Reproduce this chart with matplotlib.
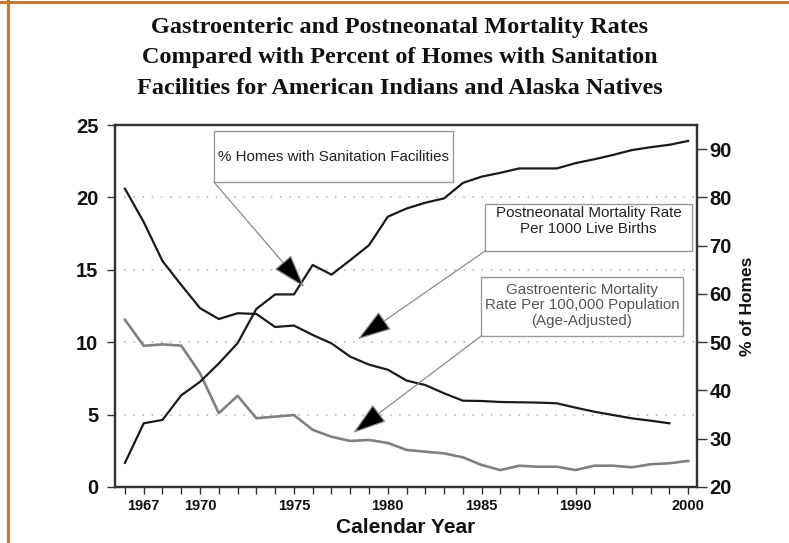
import matplotlib
matplotlib.use("Agg")
import matplotlib.pyplot as plt
from matplotlib.patches import Rectangle
from matplotlib.lines import Line2D

# ---- data ----
year_labels = ["1966", "1967", "1968", "1969", "1970", "1971", "1972", "1973", "1974", "1975",
               "1976", "1977", "1978", "1979", "1980", "1981", "1982", "1983", "1984", "1985",
               "1986", "1987", "1988", "1989", "1990", "1991", "1992", "1993", "1994", "1995",
               "2000"]
shown_ticks = ["1967", "1970", "1975", "1980", "1985", "1990", "2000"]

pct_homes_sanitation = [25.0, 33.2, 33.9, 39.0, 41.8, 45.6, 49.8, 56.9, 59.9, 59.9,
                        66.0, 64.0, 67.0, 70.1, 76.0, 77.7, 78.9, 79.8, 83.0, 84.3,
                        85.1, 86.0, 86.0, 86.0, 87.1, 87.9, 88.8, 89.8, 90.4, 90.9,
                        91.7]
postneonatal_rate = [20.6, 18.3, 15.6, 13.95, 12.35, 11.6, 12.0, 11.95, 11.05, 11.15,
                     10.5, 9.92, 9.0, 8.45, 8.1, 7.35, 7.04, 6.47, 5.96, 5.94,
                     5.87, 5.85, 5.83, 5.78, 5.48, 5.2, 4.97, 4.74, 4.58, 4.4]
gastro_rate = [11.55, 9.75, 9.85, 9.76, 7.85, 5.1, 6.3, 4.75, 4.86, 4.97,
               3.95, 3.47, 3.18, 3.25, 3.04, 2.56, 2.44, 2.32, 2.05, 1.52,
               1.17, 1.47, 1.4, 1.4, 1.17, 1.47, 1.47, 1.36, 1.57, 1.64,
               1.8]

title_lines = ["Gastroenteric and Postneonatal Mortality Rates",
               "Compared with Percent of Homes with Sanitation",
               "Facilities for American Indians and Alaska Natives"]

# ---- figure ----
fig = plt.figure(figsize=(7.89, 5.43), dpi=100)
fig.patch.set_facecolor("white")

# orange frame lines (left and top)
fig.add_artist(Line2D([8 / 789, 8 / 789], [0, 1], color="#C47A35", lw=2.2,
                      transform=fig.transFigure))
fig.add_artist(Line2D([0, 1], [1 - 2 / 543, 1 - 2 / 543], color="#C47A35", lw=2.2,
                      transform=fig.transFigure))

ax = fig.add_axes([115 / 789, 1 - 487 / 543, (697 - 115) / 789, (487 - 125) / 543])
ax2 = ax.twinx()

x_all = list(range(len(year_labels)))

for s in list(ax.spines.values()) + list(ax2.spines.values()):
    s.set_linewidth(1.6)
    s.set_color("#333333")

# grid
for g in [5, 10, 15, 20]:
    ax.axhline(g, color="#b0b0b0", lw=1.1, ls=(0, (1, 5)), zorder=0)

ax.plot(x_all[:len(gastro_rate)], gastro_rate, color="#808080", lw=1.9, zorder=3)
ax.plot(x_all[:len(postneonatal_rate)], postneonatal_rate, color="#1a1a1a", lw=1.6, zorder=3)
ax2.plot(x_all[:len(pct_homes_sanitation)], pct_homes_sanitation, color="#1a1a1a", lw=1.6, zorder=3)

ax.set_xlim(-0.53, 30.47)
ax.set_ylim(0, 25)
ax2.set_ylim(20, 95)
ax.set_yticks([0, 5, 10, 15, 20, 25])
ax2.set_yticks([20, 30, 40, 50, 60, 70, 80, 90])

ax.set_xticks(x_all)
ax.set_xticklabels([lbl if lbl in shown_ticks else "" for lbl in year_labels])

ax.tick_params(axis="x", direction="out", length=5, width=1, color="#333333", pad=4,
               labelsize=10.5)
ax.tick_params(axis="y", direction="out", length=6, width=1, color="#333333", pad=6,
               labelsize=14.5)
ax2.tick_params(axis="y", direction="out", length=7, width=1, color="#333333", pad=2,
                labelsize=14.5)
for lab in ax.get_xticklabels() + ax.get_yticklabels() + ax2.get_yticklabels():
    lab.set_fontweight("bold")
    lab.set_fontfamily("Liberation Sans")
    lab.set_color("#111111")

ax.set_xlabel("Calendar Year", fontsize=15, fontweight="bold", family="Liberation Sans",
              labelpad=3, color="#111111")
ax2.set_ylabel("% of Homes", fontsize=12.5, fontweight="bold", family="Liberation Sans",
               labelpad=6, color="#111111")

# title
for i, line in enumerate(title_lines):
    fig.text(400 / 789, 1 - (27 + 30.5 * i) / 543, line, ha="center", va="center",
             fontsize=17.5, fontweight="bold", family="Liberation Serif", color="#111111")

# annotation boxes
boxes = [
    dict(x0=0.170, x1=0.5815, y0=0.8425, y1=0.983, ty=0.912,
         text="% Homes with Sanitation Facilities", color="#222222",
         tip=(9.55, 13.8)),
    dict(x0=0.636, x1=0.991, y0=0.652, y1=0.782, ty=0.734,
         text="Postneonatal Mortality Rate\nPer 1000 Live Births", color="#222222",
         tip=(12.4, 10.2)),
    dict(x0=0.629, x1=0.976, y0=0.417, y1=0.580, ty=0.502,
         text="Gastroenteric Mortality\nRate Per 100,000 Population\n(Age-Adjusted)",
         color="#555555", tip=(12.15, 3.73)),
]
for b in boxes:
    ax2.add_patch(Rectangle((b["x0"], b["y0"]), b["x1"] - b["x0"], b["y1"] - b["y0"],
                            transform=ax2.transAxes, fill=True, facecolor="white",
                            edgecolor="#9a9a9a", lw=1.0, zorder=5))
    ax2.text((b["x0"] + b["x1"]) / 2, b["ty"], b["text"],
             transform=ax2.transAxes, ha="center", va="center", fontsize=10.9,
             family="Liberation Sans", color=b["color"], linespacing=1.15, zorder=6)
    ax2.annotate("", xy=b["tip"], xycoords=ax.transData,
                 xytext=(b["x0"], b["y0"]), textcoords=ax2.transAxes,
                 arrowprops=dict(arrowstyle="-|>,head_length=1.8,head_width=0.58",
                                 ec="#8a8a8a", fc="black", lw=0.9,
                                 shrinkA=0, shrinkB=0, mutation_scale=12),
                 zorder=6)

fig.savefig("out.png", dpi=100, facecolor="white")
